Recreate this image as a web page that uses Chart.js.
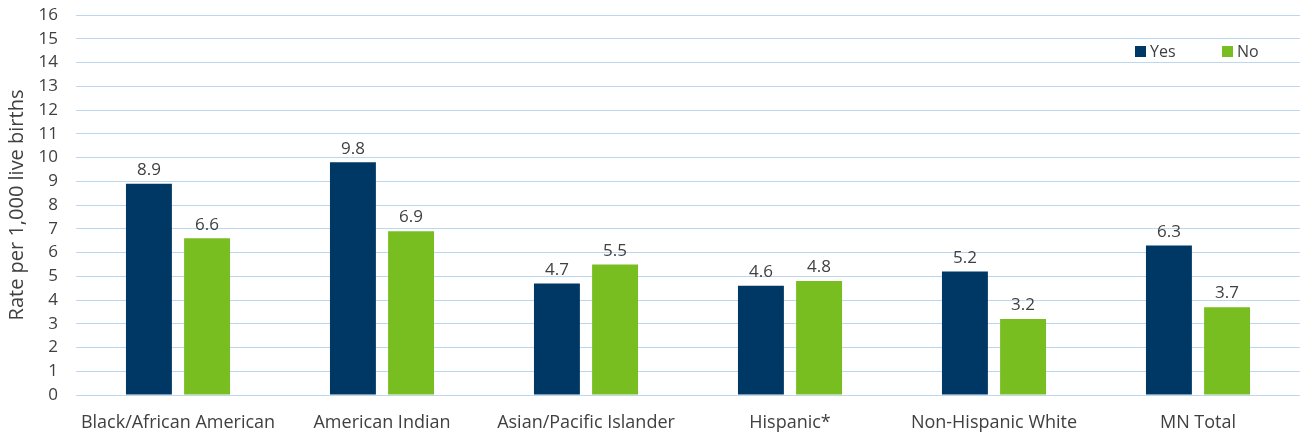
<!DOCTYPE html>
<html>
<head>
<meta charset="utf-8">
<script src="https://cdn.jsdelivr.net/npm/chart.js@4/dist/chart.umd.min.js"></script>
<style>
  html, body { margin: 0; padding: 0; background: #fff; }
  #wrap { width: 1304px; height: 435px; position: relative; }
</style>
</head>
<body>
<div id="wrap"><canvas id="rateChart"></canvas></div>
<script>
// Infant mortality rate by race/ethnicity, Yes vs No

const categories = ['Black/African American', 'American Indian', 'Asian/Pacific Islander', 'Hispanic*', 'Non-Hispanic White', 'MN Total'];
const yesValues = [8.9, 9.8, 4.7, 4.6, 5.2, 6.3];
const noValues = [6.6, 6.9, 5.5, 4.8, 3.2, 3.7];
const yTicks = [0, 1, 2, 3, 4, 5, 6, 7, 8, 9, 10, 11, 12, 13, 14, 15, 16];

const COLORS = {
    yes: '#003865',
    no: '#78be21',
    grid: '#bdd7ee',
    text: '#404040'
};

const FONT = "'Open Sans', 'DejaVu Sans', sans-serif";

Chart.defaults.color = COLORS.text;
Chart.defaults.font.family = FONT;
Chart.defaults.font.size = 17;

// value labels above each bar
const barLabels = {
    id: 'barLabels',
    afterDatasetsDraw(chart) {
        const ctx = chart.ctx;
        ctx.save();
        ctx.font = '17px ' + FONT;
        ctx.fillStyle = COLORS.text;
        ctx.textAlign = 'center';
        ctx.textBaseline = 'bottom';
        chart.data.datasets.forEach((ds, i) => {
            chart.getDatasetMeta(i).data.forEach((bar, j) => {
                ctx.fillText(ds.data[j].toFixed(1), bar.x, bar.y - 5);
            });
        });
        ctx.restore();
    }
};

// legend in the top right corner of the plot
const cornerLegend = {
    id: 'cornerLegend',
    afterDraw(chart) {
        const ctx = chart.ctx;
        const area = chart.chartArea;
        const spots = [area.right - 165, area.right - 78];
        ctx.save();
        ctx.font = '16px ' + FONT;
        ctx.textBaseline = 'middle';
        ctx.textAlign = 'left';
        chart.data.datasets.forEach((ds, i) => {
            const x = spots[i];
            const y = area.top + 37;
            ctx.fillStyle = ds.backgroundColor;
            ctx.fillRect(x, y - 6, 11, 11);
            ctx.fillStyle = COLORS.text;
            ctx.fillText(ds.label, x + 15, y);
        });
        ctx.restore();
    }
};

const chartCtx = document.getElementById('rateChart').getContext('2d');
const rateChart = new Chart(chartCtx, {
    type: 'bar',
    data: {
        labels: categories,
        datasets: [
            { label: 'Yes', data: yesValues, backgroundColor: COLORS.yes, categoryPercentage: 0.57, barPercentage: 0.79 },
            { label: 'No', data: noValues, backgroundColor: COLORS.no, categoryPercentage: 0.57, barPercentage: 0.79 }
        ]
    },
    options: {
        responsive: true, maintainAspectRatio: false,
        animation: false,
        layout: { padding: { top: 15, right: 4, left: 0, bottom: 0 } },
        scales: {
            x: {
                grid: { display: false, drawTicks: false },
                border: { display: false },
                ticks: { padding: 17, autoSkip: false, maxRotation: 0, color: COLORS.text, font: { size: 18 } },
                afterFit: (axis) => { axis.height = 40; axis.paddingLeft = 0; axis.paddingRight = 0; }
            },
            y: {
                min: 0, max: 16,
                afterBuildTicks: (axis) => { axis.ticks = yTicks.map(v => ({ value: v })); },
                grid: { color: COLORS.grid, lineWidth: 1, drawTicks: false },
                border: { display: false },
                ticks: { padding: 18, autoSkip: false, color: COLORS.text, font: { size: 17 } },
                title: { display: true, text: 'Rate per 1,000 live births', color: COLORS.text, font: { size: 20 }, padding: { top: 5, bottom: 0 } },
                afterFit: (axis) => { axis.width = 76; axis.paddingTop = 0; axis.paddingBottom = 0; }
            }
        },
        plugins: { legend: { display: false }, tooltip: { enabled: false } }
    },
    plugins: [barLabels, cornerLegend]
});
</script>
</body>
</html>
